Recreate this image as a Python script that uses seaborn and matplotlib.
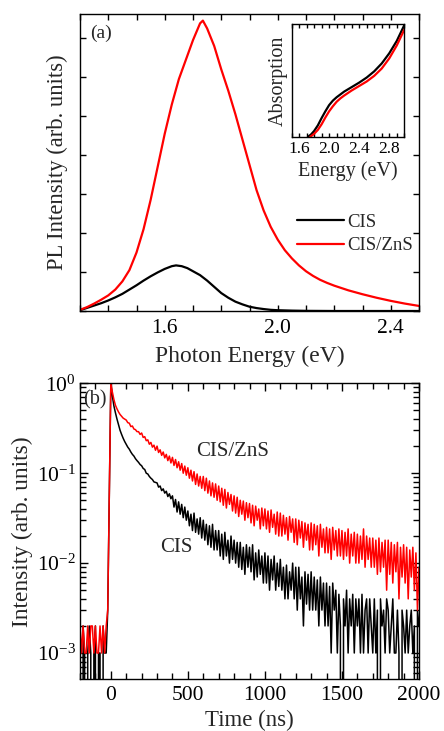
import numpy as np
import pandas as pd
import matplotlib
matplotlib.use("Agg")
import matplotlib.pyplot as plt
from matplotlib.ticker import MultipleLocator, LogLocator, NullFormatter, FixedLocator, FormatStrFormatter
import seaborn as sns

# ---------------- data ----------------
# (a) PL spectra (arb. units)
PL_E_CIS = [1.300, 1.325, 1.350, 1.375, 1.400, 1.425, 1.450, 1.475, 1.500, 1.525,
            1.550, 1.575, 1.600, 1.625, 1.640, 1.660, 1.680, 1.700, 1.725, 1.750,
            1.775, 1.800, 1.825, 1.850, 1.875, 1.900, 1.925, 1.950, 1.975, 2.000,
            2.050, 2.100, 2.200, 2.500]
PL_CIS = [0.02, 0.08, 0.14, 0.20, 0.27, 0.35, 0.44, 0.55, 0.66, 0.78,
          0.89, 0.99, 1.08, 1.15, 1.17, 1.15, 1.10, 1.02, 0.92, 0.78,
          0.62, 0.46, 0.34, 0.24, 0.17, 0.11, 0.075, 0.05, 0.03, 0.02,
          0.01, 0.004, 0.0, 0.0]
PL_E_ZNS = [1.300, 1.325, 1.350, 1.375, 1.400, 1.425, 1.450, 1.475, 1.500, 1.525,
            1.550, 1.575, 1.600, 1.625, 1.650, 1.675, 1.700, 1.725, 1.735, 1.750,
            1.775, 1.800, 1.825, 1.850, 1.875, 1.900, 1.925, 1.950, 1.975, 2.000,
            2.025, 2.050, 2.075, 2.100, 2.125, 2.150, 2.175, 2.200, 2.250, 2.300,
            2.350, 2.400, 2.450, 2.500]
PL_ZNS = [0.03, 0.10, 0.19, 0.29, 0.40, 0.55, 0.76, 1.05, 1.50, 2.10,
          2.85, 3.70, 4.55, 5.30, 5.95, 6.45, 6.95, 7.38, 7.45, 7.25,
          6.80, 6.20, 5.65, 5.05, 4.40, 3.75, 3.10, 2.58, 2.16, 1.83,
          1.56, 1.35, 1.17, 1.02, 0.90, 0.80, 0.72, 0.65, 0.53, 0.43,
          0.34, 0.26, 0.19, 0.13]
PL_YTICKS = [0, 1, 2, 3, 4, 5, 6, 7]
PL_XTICKS = [1.6, 2.0, 2.4]

# inset: absorption
ABS_E_CIS = [1.72, 1.76, 1.80, 1.85, 1.90, 1.95, 2.00, 2.05, 2.10, 2.15, 2.20,
             2.30, 2.40, 2.50, 2.60, 2.70, 2.80, 2.90, 3.00]
ABS_CIS = [0.0, 0.02, 0.05, 0.10, 0.165, 0.225, 0.28, 0.32, 0.35, 0.375, 0.40,
           0.44, 0.48, 0.525, 0.58, 0.65, 0.74, 0.85, 0.99]
ABS_E_ZNS = [1.75, 1.80, 1.85, 1.90, 1.95, 2.00, 2.05, 2.10, 2.15, 2.20,
             2.30, 2.40, 2.50, 2.60, 2.70, 2.80, 2.90, 3.00]
ABS_ZNS = [0.0, 0.025, 0.06, 0.11, 0.17, 0.225, 0.27, 0.31, 0.34, 0.365,
           0.41, 0.45, 0.49, 0.54, 0.605, 0.695, 0.81, 0.95]
ABS_XTICKS = [1.6, 2.0, 2.4, 2.8]

# (b) time-resolved PL (normalised), 10 ns bins
TIME_PRE = [-200, -190, -180, -170, -160, -150, -140, -130, -120, -110,
            -100, -90, -80, -70, -60, -50, -40, -30, -20]
CIS_PRE = [0.001, 0.0, 0.002, 0.001, 0.0, 0.001, 0.002, 0.001, 0.0, 0.001,
           0.002, 0.0, 0.001, 0.001, 0.0, 0.002, 0.001, 0.001, 0.003]
ZNS_PRE = [0.002, 0.001, 0.002, 0.001, 0.001, 0.002, 0.001, 0.002, 0.002, 0.001,
           0.002, 0.001, 0.001, 0.002, 0.001, 0.002, 0.001, 0.002, 0.003]
TIME_MAIN = list(range(0, 2001, 10))
CIS_MAIN = [
    0.98, 0.72, 0.56, 0.47, 0.40, 0.345, 0.30, 0.27, 0.245, 0.225,           # 0
    0.21, 0.195, 0.185, 0.172, 0.162, 0.155, 0.145, 0.138, 0.132, 0.125,     # 100
    0.121, 0.113, 0.110, 0.100, 0.098, 0.092, 0.088, 0.085, 0.080, 0.079,    # 200
    0.078, 0.070, 0.072, 0.064, 0.067, 0.060, 0.063, 0.055, 0.059, 0.052,    # 300
    0.056, 0.042, 0.051, 0.037, 0.048, 0.035, 0.045, 0.032, 0.042, 0.030,    # 400
    0.038, 0.026, 0.035, 0.023, 0.036, 0.022, 0.031, 0.021, 0.032, 0.019,    # 500
    0.030, 0.018, 0.027, 0.016, 0.026, 0.015, 0.027, 0.014, 0.023, 0.014,    # 600
    0.023, 0.012, 0.021, 0.011, 0.022, 0.012, 0.018, 0.010, 0.020, 0.011,    # 700
    0.018, 0.010, 0.017, 0.009, 0.017, 0.0085, 0.015, 0.0075, 0.016, 0.009,  # 800
    0.015, 0.008, 0.016, 0.0065, 0.013, 0.007, 0.014, 0.0075, 0.012, 0.006,  # 900
    0.013, 0.006, 0.012, 0.005, 0.011, 0.0065, 0.012, 0.005, 0.010, 0.0055,  # 1000
    0.011, 0.005, 0.009, 0.004, 0.0095, 0.004, 0.008, 0.005, 0.010, 0.004,   # 1100
    0.009, 0.003, 0.009, 0.004, 0.007, 0.002, 0.008, 0.0035, 0.0075, 0.003,  # 1200
    0.008, 0.003, 0.007, 0.003, 0.0065, 0.002, 0.007, 0.003, 0.006, 0.002,   # 1300
    0.006, 0.002, 0.0055, 0.001, 0.006, 0.003, 0.005, 0.001, 0.0045, 0.002,  # 1400
    0.0, 0.004, 0.002, 0.005, 0.001, 0.004, 0.002, 0.0045, 0.001, 0.004,     # 1500
    0.002, 0.004, 0.001, 0.0045, 0.001, 0.003, 0.004, 0.001, 0.004, 0.002,   # 1600
    0.001, 0.004, 0.001, 0.003, 0.0, 0.004, 0.002, 0.003, 0.001, 0.004,      # 1700
    0.003, 0.001, 0.002, 0.004, 0.001, 0.001, 0.003, 0.001, 0.0, 0.003,      # 1800
    0.002, 0.001, 0.003, 0.001, 0.002, 0.003, 0.001, 0.002, 0.0, 0.003,      # 1900
    0.002]
ZNS_MAIN = [
    1.0, 0.80, 0.66, 0.57, 0.52, 0.48, 0.45, 0.43, 0.41, 0.40,               # 0
    0.39, 0.365, 0.36, 0.33, 0.335, 0.31, 0.305, 0.29, 0.29, 0.27,          # 100
    0.28, 0.25, 0.255, 0.23, 0.235, 0.21, 0.22, 0.195, 0.205, 0.18,         # 200
    0.2, 0.17, 0.182, 0.158, 0.172, 0.148, 0.162, 0.138, 0.155, 0.13,       # 300
    0.15, 0.122, 0.142, 0.115, 0.134, 0.108, 0.128, 0.1, 0.12, 0.095,       # 400
    0.115, 0.088, 0.108, 0.082, 0.104, 0.075, 0.098, 0.072, 0.092, 0.068,   # 500
    0.092, 0.064, 0.088, 0.06, 0.082, 0.056, 0.078, 0.054, 0.076, 0.05,     # 600
    0.072, 0.048, 0.068, 0.044, 0.066, 0.041, 0.061, 0.045, 0.058, 0.038,   # 700
    0.056, 0.036, 0.054, 0.033, 0.05, 0.035, 0.049, 0.03, 0.047, 0.032,     # 800
    0.046, 0.028, 0.044, 0.026, 0.043, 0.03, 0.04, 0.024, 0.041, 0.026,     # 900
    0.04, 0.024, 0.038, 0.022, 0.039, 0.025, 0.035, 0.021, 0.037, 0.02,     # 1000
    0.036, 0.02, 0.034, 0.021, 0.032, 0.018, 0.033, 0.022, 0.031, 0.017,    # 1100
    0.031, 0.016, 0.03, 0.019, 0.029, 0.015, 0.028, 0.018, 0.027, 0.014,    # 1200
    0.028, 0.014, 0.027, 0.016, 0.026, 0.012, 0.027, 0.015, 0.024, 0.013,   # 1300
    0.025, 0.013, 0.024, 0.011, 0.025, 0.014, 0.023, 0.012, 0.024, 0.012,   # 1400
    0.023, 0.011, 0.022, 0.012, 0.024, 0.01, 0.021, 0.012, 0.022, 0.01,     # 1500
    0.021, 0.01, 0.02, 0.011, 0.024, 0.009, 0.02, 0.011, 0.019, 0.009,      # 1600
    0.019, 0.009, 0.018, 0.0075, 0.019, 0.008, 0.017, 0.009, 0.018, 0.005,  # 1700
    0.018, 0.0075, 0.017, 0.006, 0.016, 0.008, 0.017, 0.004, 0.015, 0.007,  # 1800
    0.016, 0.006, 0.015, 0.004, 0.014, 0.007, 0.015, 0.005, 0.013, 0.003,   # 1900
    0.009]
TR_XTICKS = [0, 500, 1000, 1500, 2000]

LABEL_CIS = "CIS"
LABEL_ZNS = "CIS/ZnS"
C_CIS = "black"
C_ZNS = "#ff0000"

# ---------------- style ----------------
sns.set_style("ticks")
plt.rcParams["font.family"] = ["Liberation Serif", "DejaVu Serif"]
plt.rcParams["mathtext.fontset"] = "custom"
plt.rcParams["mathtext.rm"] = "Liberation Serif"
plt.rcParams["mathtext.it"] = "Liberation Serif:italic"
plt.rcParams["axes.linewidth"] = 1.0
plt.rcParams["axes.edgecolor"] = "black"
plt.rcParams["xtick.color"] = "black"
plt.rcParams["ytick.color"] = "black"

fig = plt.figure(figsize=(4.44, 7.31), dpi=100)
W, H = 444.0, 731.0


def px_axes(l, t, r, b):
    return fig.add_axes([l / W, 1 - b / H, (r - l) / W, (b - t) / H])


# ---------------- (a) ----------------
ax1 = px_axes(80, 14, 419, 311)
df_c = pd.DataFrame({"E": PL_E_CIS, "I": PL_CIS})
df_z = pd.DataFrame({"E": PL_E_ZNS, "I": PL_ZNS})
sns.lineplot(data=df_c, x="E", y="I", ax=ax1, color=C_CIS, lw=1.6,
             estimator=None, sort=False, label=LABEL_CIS)
sns.lineplot(data=df_z, x="E", y="I", ax=ax1, color=C_ZNS, lw=1.6,
             estimator=None, sort=False, label=LABEL_ZNS)
ax1.set_xlim(1.3, 2.5)
ax1.set_ylim(0, 7.62)
ax1.xaxis.set_major_locator(FixedLocator(PL_XTICKS))
ax1.xaxis.set_minor_locator(MultipleLocator(0.1))
ax1.set_yticks(PL_YTICKS)
ax1.set_yticklabels([])
ax1.tick_params(which="both", direction="in", top=True, right=True,
                labelsize=15.5, pad=6, width=1.0, length=4)
ax1.set_xlabel("Photon Energy (eV)", fontsize=17)
ax1.set_ylabel("PL Intensity (arb. units)", fontsize=16.3)
ax1.xaxis.set_label_coords(0.5, -0.118)
ax1.yaxis.set_label_coords(-0.035, 0.5)
ax1.text(0.03, 0.936, "(a)", transform=ax1.transAxes, fontsize=14,
         ha="left", va="center")
ax1.legend(loc="upper left", bbox_to_anchor=(0.640, 0.327), frameon=False,
           fontsize=13.5, handlelength=2.5, handletextpad=0.2,
           labelspacing=0.33, borderpad=0, borderaxespad=0)

# inset
axi = px_axes(291.5, 24, 404.3, 136.7)
df_ac = pd.DataFrame({"E": ABS_E_CIS, "A": ABS_CIS})
df_az = pd.DataFrame({"E": ABS_E_ZNS, "A": ABS_ZNS})
sns.lineplot(data=df_ac, x="E", y="A", ax=axi, color=C_CIS, lw=1.6,
             estimator=None, sort=False)
sns.lineplot(data=df_az, x="E", y="A", ax=axi, color=C_ZNS, lw=1.6,
             estimator=None, sort=False)
axi.set_xlim(1.5, 3.0)
axi.set_ylim(0, 1.0)
axi.xaxis.set_major_locator(FixedLocator(ABS_XTICKS))
axi.xaxis.set_major_formatter(FormatStrFormatter("%.1f"))
axi.xaxis.set_minor_locator(MultipleLocator(0.1))
axi.set_yticks([])
axi.tick_params(which="both", direction="in", top=True, labelsize=12.5,
                pad=3, length=3, width=1.0)
axi.set_xlabel("Energy (eV)", fontsize=14.5, labelpad=3)
axi.set_ylabel("Absorption", fontsize=14.5, labelpad=3)

# ---------------- (b) ----------------
ax2 = px_axes(80, 383.3, 419, 679.3)
t_all = TIME_PRE + TIME_MAIN
df_tc = pd.DataFrame({"t": t_all, "I": CIS_PRE + CIS_MAIN})
df_tz = pd.DataFrame({"t": t_all, "I": ZNS_PRE + ZNS_MAIN})
sns.lineplot(data=df_tc, x="t", y="I", ax=ax2, color=C_CIS, lw=1.1,
             estimator=None, sort=False)
sns.lineplot(data=df_tz, x="t", y="I", ax=ax2, color=C_ZNS, lw=1.1,
             estimator=None, sort=False)
ax2.set_yscale("log")
ax2.set_xlim(-200, 2000)
ax2.set_ylim(5.1e-4, 1.0)
ax2.xaxis.set_major_locator(FixedLocator(TR_XTICKS))
ax2.xaxis.set_minor_locator(MultipleLocator(100))
ax2.yaxis.set_major_locator(LogLocator(base=10, numticks=10))
ax2.yaxis.set_minor_locator(LogLocator(base=10, subs=np.arange(2, 10), numticks=10))
ax2.yaxis.set_minor_formatter(NullFormatter())
ax2.tick_params(which="both", direction="in", top=True, right=True,
                labelsize=15.5, width=1.0)
ax2.tick_params(axis="x", which="both", pad=5)
ax2.tick_params(axis="y", which="both", pad=3)
ax2.tick_params(which="major", length=6)
ax2.tick_params(which="minor", length=4)
ax2.set_xlabel("Time (ns)", fontsize=16.5)
ax2.set_ylabel("Intensity (arb. units)", fontsize=16.8)
ax2.xaxis.set_label_coords(0.5, -0.104)
ax2.yaxis.set_label_coords(-0.138, 0.5)
ax2.text(0.01, 0.944, "(b)", transform=ax2.transAxes, fontsize=14.5,
         ha="left", va="center")
ax2.text(789, 0.174, LABEL_ZNS, fontsize=15, ha="center", va="center")
ax2.text(427, 0.0148, LABEL_CIS, fontsize=15, ha="center", va="center")

fig.savefig("out.png", dpi=100)
